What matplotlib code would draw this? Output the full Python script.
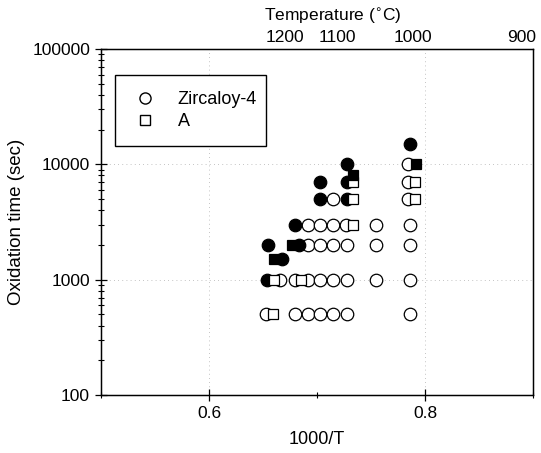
import matplotlib
matplotlib.use("Agg")
import matplotlib.pyplot as plt
import matplotlib.patches as mpatches
from matplotlib.ticker import MultipleLocator, LogLocator, NullFormatter, FixedLocator

plt.rcParams["font.family"] = ["Liberation Sans", "DejaVu Sans"]

# Zircaloy-4, open circles (1000/T, time in sec)
zry_x = [0.653, 0.680, 0.692, 0.703, 0.715, 0.728, 0.786,
         0.666, 0.680, 0.692, 0.703, 0.715, 0.728, 0.755, 0.786,
         0.692, 0.703, 0.715, 0.728, 0.755, 0.786,
         0.692, 0.703, 0.715, 0.727, 0.755, 0.786,
         0.715, 0.784,
         0.784,
         0.784]
zry_t = [500, 500, 500, 500, 500, 500, 500,
         1000, 1000, 1000, 1000, 1000, 1000, 1000, 1000,
         2000, 2000, 2000, 2000, 2000, 2000,
         3000, 3000, 3000, 3000, 3000, 3000,
         5000, 5000,
         7000,
         10000]

# alloy A, open squares
a_x = [0.659, 0.660, 0.685, 0.733, 0.733, 0.791, 0.733, 0.791]
a_t = [500, 1000, 1000, 3000, 5000, 5000, 7000, 7000]

# filled circles
zry_fail_x = [0.654, 0.668, 0.655, 0.683, 0.680, 0.703, 0.728, 0.703, 0.728, 0.728, 0.786]
zry_fail_t = [1000, 1500, 2000, 2000, 3000, 5000, 5000, 7000, 7000, 10000, 15000]

# filled squares
a_fail_x = [0.660, 0.677, 0.733, 0.792]
a_fail_t = [1500, 2000, 8000, 10000]

# top axis temperature labels
temp_pos = [0.670, 0.719, 0.789, 0.890]
temp_labels = ["1200", "1100", "1000", "900"]

fig = plt.figure(figsize=(5.41, 4.53), dpi=100)
ax = fig.add_axes([0.187, 0.128, 0.798, 0.764])

circ = dict(marker="o", markersize=9, markeredgecolor="black",
            markeredgewidth=0.9, linestyle="none", zorder=3)
sq = dict(marker="s", markersize=7.5, markeredgecolor="black",
          markeredgewidth=0.9, linestyle="none", zorder=4)

ax.plot(zry_x, zry_t, markerfacecolor="white", **circ)
ax.plot(zry_fail_x, zry_fail_t, markerfacecolor="black", **circ)
ax.plot(a_x, a_t, markerfacecolor="white", **sq)
ax.plot(a_fail_x, a_fail_t, markerfacecolor="black", **sq)

ax.set_yscale("log")
ax.set_xlim(0.5, 0.9)
ax.set_ylim(100, 100000)
ax.xaxis.set_major_locator(FixedLocator([0.6, 0.8]))
ax.xaxis.set_minor_locator(MultipleLocator(0.1))
ax.yaxis.set_major_locator(LogLocator(base=10, numticks=10))
ax.yaxis.set_minor_locator(LogLocator(base=10, subs=range(2, 10), numticks=20))
ax.yaxis.set_minor_formatter(NullFormatter())
ax.yaxis.set_major_formatter(matplotlib.ticker.FuncFormatter(lambda v, p: f"{int(v)}"))

ax.tick_params(which="major", direction="inout", length=9, width=0.9,
               labelsize=12.5, top=True, right=False)
ax.tick_params(which="minor", direction="inout", length=5, width=0.8,
               top=True, right=False)
ax.tick_params(axis="x", which="both", top=True, labeltop=False)

ax.grid(which="major", color="#b0b0b0", linestyle=(0, (1, 4)), linewidth=0.6, zorder=0)
for spine in ax.spines.values():
    spine.set_linewidth(1.0)

ax.set_xlabel("1000/T", fontsize=13, labelpad=7)
ax.set_ylabel("Oxidation time (sec)", fontsize=13.5, labelpad=5)

ax2 = ax.twiny()
ax2.set_xlim(ax.get_xlim())
ax2.set_xticks(temp_pos)
ax2.set_xticklabels(temp_labels, fontsize=12.5)
ax2.tick_params(axis="x", length=0, pad=3)
ax2.set_xlabel("Temperature ($^{\\circ}$C)", fontsize=12.5, labelpad=5)
ax2.xaxis.set_label_coords(0.537, 1.08)

# legend box with extra room below entries
box = mpatches.Rectangle((0.032, 0.72), 0.35, 0.205, transform=ax.transAxes,
                         facecolor="white", edgecolor="black", linewidth=1.0, zorder=5)
ax.add_patch(box)
handles = [
    plt.Line2D([], [], marker="o", markersize=8, markerfacecolor="white",
               markeredgecolor="black", linestyle="none", label="Zircaloy-4"),
    plt.Line2D([], [], marker="s", markersize=7, markerfacecolor="white",
               markeredgecolor="black", linestyle="none", label="A"),
]
leg = ax.legend(handles=handles, loc="upper left", bbox_to_anchor=(0.06, 0.905),
                frameon=False, fontsize=13, handlelength=1.0, handletextpad=1.3,
                labelspacing=0.3, borderpad=0)
leg.set_zorder(6)

fig.savefig("out.png", dpi=100, facecolor="white")
